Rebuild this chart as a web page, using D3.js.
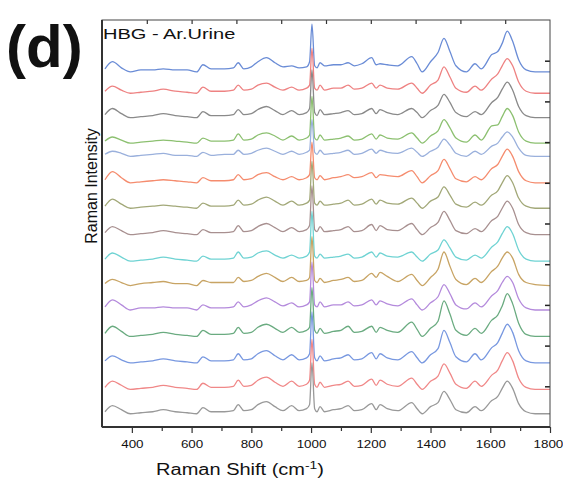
<!DOCTYPE html>
<html>
<head>
<meta charset="utf-8">
<script src="https://cdn.jsdelivr.net/npm/d3@7"></script>
<style>
body { margin: 0; background: #fff; }
text { font-family: "Liberation Sans", Arial, sans-serif; fill: #111; }
</style>
</head>
<body>
<script>
//raman shift grid (cm-1), shared by all spectra
var shifts = [310, 335, 365, 395, 430, 470, 505, 545, 585, 617,
              638, 665, 710, 740, 756, 775, 800, 822, 851, 879,
              906, 935, 960, 985, 995, 1003, 1012, 1020, 1030, 1045,
              1075, 1100, 1124, 1145, 1170, 1203, 1218, 1231, 1255, 1290,
              1337, 1355, 1372, 1400, 1425, 1445, 1465, 1485, 1520, 1549,
              1570, 1605, 1625, 1640, 1657, 1675, 1695, 1720, 1750, 1800];

//vertical stacking offset of each spectrum (top to bottom)
var offsets = [349, 328, 304, 279, 266, 240, 215, 189, 163, 139, 115, 89, 63, 37, 13];

var colors = ["#6a8cd6", "#ee8282", "#8a8a8a", "#8cc070", "#9ab0dc",
              "#f58c6e", "#a2a878", "#a89090", "#6fd3d3", "#c8a464",
              "#b48adc", "#6aab80", "#7898e0", "#f08888", "#999999"];

//intensities above each spectrum's baseline
var s1  = [3,10,4,0,2,2,3,2,2,0,7,3,3,4,9,3,5,10,14,9,5,6,4,5,10,47,6,4,9,6,7,7,9,6,8,14,7,8,7,6,15,8,0,10,19,33,20,6,0,8,3,17,20,28,40,30,12,2,0,0];
var s2  = [2,7,3,0,1,2,4,2,1,0,6,2,2,3,8,3,4,8,10,6,3,6,3,5,8,44,5,3,8,3,5,5,8,4,5,10,5,8,5,4,10,5,0,8,13,26,16,5,1,7,3,14,19,27,34,27,11,2,0,0];
var s3  = [3,9,4,0,1,2,4,2,1,0,6,2,2,3,8,3,4,8,11,7,3,7,3,5,9,47,5,2,8,3,4,5,7,3,4,9,4,8,5,3,9,5,0,7,12,23,15,5,1,6,3,15,20,28,35,27,11,2,0,0];
var s4  = [2,6,3,0,1,2,3,2,1,0,5,2,2,3,9,3,4,8,10,7,3,7,3,5,8,46,5,3,8,3,4,5,7,3,4,9,4,8,5,4,10,5,0,7,12,23,15,5,1,8,3,17,18,26,34,27,11,2,0,0];
var s5  = [2,5,3,0,1,2,3,1,1,0,4,1,2,2,6,2,3,6,8,5,2,5,2,4,6,36,4,2,6,2,3,4,6,2,3,7,3,6,4,3,8,4,0,5,9,17,11,3,0,5,2,10,13,19,24,19,8,1,0,0];
var s6  = [3,11,5,0,1,2,3,2,1,0,5,2,2,3,8,3,4,8,10,6,3,6,3,5,8,40,5,3,7,3,5,6,8,5,6,10,5,8,7,6,12,6,0,7,12,23,14,4,1,6,3,14,18,26,33,26,11,2,0,0];
var s7  = [2,9,4,0,1,2,3,2,1,0,5,2,2,3,8,3,4,8,11,7,3,7,3,5,8,46,5,3,7,3,4,5,8,3,4,9,4,8,5,4,10,5,0,7,11,21,13,4,1,6,3,13,17,25,32,25,10,2,0,0];
var s8  = [2,8,4,0,1,2,4,2,1,0,5,2,2,3,9,3,4,8,11,7,3,7,3,5,9,48,5,3,8,3,4,5,8,3,4,10,4,9,5,4,11,5,0,7,12,23,14,4,1,6,3,14,18,26,33,26,10,2,0,0];
var s9  = [2,8,4,0,1,2,4,2,1,0,5,2,2,3,9,3,4,8,10,6,3,6,3,5,9,49,5,3,7,3,4,5,7,3,4,9,4,8,5,4,9,4,0,7,11,21,13,4,1,6,3,14,19,27,34,27,11,2,0,0];
var s10 = [2,6,3,0,2,3,4,2,2,0,5,3,3,3,8,4,5,9,12,8,4,8,4,5,8,48,5,3,7,3,5,6,8,4,5,12,8,13,9,4,11,5,0,8,16,33,19,6,1,7,3,14,19,27,33,27,11,3,1,0];
var s11 = [3,10,5,0,2,2,3,2,2,0,5,2,2,3,8,3,5,9,12,8,4,7,3,5,8,47,5,3,8,3,5,5,8,4,5,10,5,9,6,4,11,5,0,7,13,25,16,5,1,7,3,14,19,27,33,27,11,2,0,0];
var s12 = [3,10,5,0,1,2,4,2,1,0,6,2,2,3,9,3,4,9,12,8,4,9,4,6,9,48,6,3,8,3,5,6,10,4,5,10,4,9,6,4,14,7,0,8,15,35,22,6,1,8,3,16,21,30,42,32,13,2,0,0];
var s13 = [2,7,3,0,1,2,4,2,1,0,6,2,2,3,9,3,4,9,12,7,3,8,3,5,9,50,5,2,7,2,4,5,8,3,4,10,4,9,5,3,11,5,0,8,14,32,20,6,1,9,3,15,20,29,38,30,12,2,0,0];
var s14 = [2,8,4,0,1,2,4,2,1,0,6,2,2,3,9,3,4,9,12,7,3,8,3,5,9,49,5,2,7,2,4,5,8,3,4,10,4,9,5,3,11,5,0,8,13,25,16,5,1,8,3,14,19,28,36,28,11,2,0,0];
var s15 = [2,8,4,0,1,2,4,2,1,0,6,2,2,3,9,3,4,9,12,7,3,8,3,5,9,50,5,2,7,2,4,5,8,3,4,10,4,9,5,3,11,5,0,7,11,22,14,4,1,7,3,13,17,25,32,25,10,2,0,0];
var spectra = [s1, s2, s3, s4, s5, s6, s7, s8, s9, s10, s11, s12, s13, s14, s15];

var xTicks = [400, 600, 800, 1000, 1200, 1400, 1600, 1800];
var xMinor = [500, 700, 900, 1100, 1300, 1500, 1700];
var topTicks = [450, 600, 750, 900, 1050, 1200, 1350, 1500, 1650];
var rightTicks = [40, 80, 120, 160, 200, 240, 280, 320, 360];

//create svg
var svg = d3.select("body").append("svg")
    .attr("width", 563)
    .attr("height", 480);

var margin = {left: 102, right: 13, top: 20, bottom: 53};
var width = svg.attr("width") - margin.left - margin.right;
var height = svg.attr("height") - margin.top - margin.bottom;

var x = d3.scaleLinear().domain([300, 1800]).range([0, width]);
var y = d3.scaleLinear().domain([0, 400]).range([height, 0]);

var g = svg.append("g")
    .attr("transform", "translate(" + margin.left + "," + margin.top + ")");

g.append("clipPath").attr("id", "plotclip")
  .append("rect").attr("width", width).attr("height", height);

var line = d3.line()
    .x(function(d) { return x(d[0]); })
    .y(function(d) { return y(d[1]); })
    .curve(d3.curveMonotoneX);

var plot = g.append("g").attr("clip-path", "url(#plotclip)");
for (var i = 0; i < spectra.length; i++) {
    var pts = shifts.map(function(s, j) { return [s, spectra[i][j] + offsets[i]]; });
    plot.append("path")
        .datum(pts)
        .attr("fill", "none")
        .attr("stroke", colors[i])
        .attr("stroke-width", 1.3)
        .attr("stroke-linejoin", "round")
        .attr("d", line);
}

// bottom axis, labelled ticks
var xAxis = g.append("g")
    .attr("transform", "translate(0," + height + ")")
    .call(d3.axisBottom(x).tickValues(xTicks).tickSize(6).tickSizeOuter(0).tickFormat(d3.format("d")));
xAxis.select(".domain").remove();
xAxis.selectAll("line").attr("stroke", "#333").attr("stroke-width", 1.2);
xAxis.selectAll("text")
    .attr("dy", null)
    .attr("y", 21)
    .attr("font-size", 11)
    .attr("transform", "scale(1.22,1)")
    .style("font-family", "Liberation Sans, Arial, sans-serif")
    .attr("fill", "#111");
// keep the last label inside the page
xAxis.selectAll("text")
    .filter(function(d) { return d === 1800; })
    .style("text-anchor", "end")
    .attr("x", 10.5);

// bottom minor ticks
var xMin = g.append("g")
    .attr("transform", "translate(0," + height + ")")
    .call(d3.axisBottom(x).tickValues(xMinor).tickSize(4).tickSizeOuter(0).tickFormat(""));
xMin.select(".domain").remove();
xMin.selectAll("line").attr("stroke", "#333").attr("stroke-width", 1.2);

// top ticks, inward
var xTop = g.append("g")
    .call(d3.axisTop(x).tickValues(topTicks).tickSize(-4).tickSizeOuter(0).tickFormat(""));
xTop.select(".domain").remove();
xTop.selectAll("line").attr("stroke", "#333").attr("stroke-width", 1.2);

// right ticks, inward
var yRight = g.append("g")
    .attr("transform", "translate(" + width + ",0)")
    .call(d3.axisRight(y).tickValues(rightTicks).tickSize(-5).tickSizeOuter(0).tickFormat(""));
yRight.select(".domain").remove();
yRight.selectAll("line").attr("stroke", "#222").attr("stroke-width", 1.5);

// frame
g.append("rect")
    .attr("width", width)
    .attr("height", height)
    .attr("fill", "none")
    .attr("stroke", "#444")
    .attr("stroke-width", 1);
g.append("line")
    .attr("x1", 0).attr("x2", 0).attr("y1", 0).attr("y2", height)
    .attr("stroke", "#333").attr("stroke-width", 2);
g.append("line")
    .attr("x1", 0).attr("x2", width).attr("y1", height).attr("y2", height)
    .attr("stroke", "#333").attr("stroke-width", 2);

//title inside plot
svg.append("text")
    .attr("transform", "translate(103,39) scale(1.38,1)")
    .attr("font-size", 14.5)
    .text("HBG - Ar.Urine");

//panel letter
svg.append("text")
    .attr("x", 6)
    .attr("y", 67)
    .attr("font-size", 60)
    .attr("font-weight", "bold")
    .attr("fill", "#000")
    .text("(d)");

//x-axis label
var xl = svg.append("text")
    .attr("transform", "translate(240,475) scale(1.25,1)")
    .attr("font-size", 16)
    .style("text-anchor", "middle");
xl.append("tspan").text("Raman Shift (cm");
xl.append("tspan").attr("font-size", 11).attr("dy", -6).text("-1");
xl.append("tspan").attr("dy", 6).text(")");

//y-axis label
svg.append("text")
    .attr("transform", "translate(97,186) rotate(-90)")
    .attr("font-size", 16)
    .style("text-anchor", "middle")
    .text("Raman Intensity");
</script>
</body>
</html>
